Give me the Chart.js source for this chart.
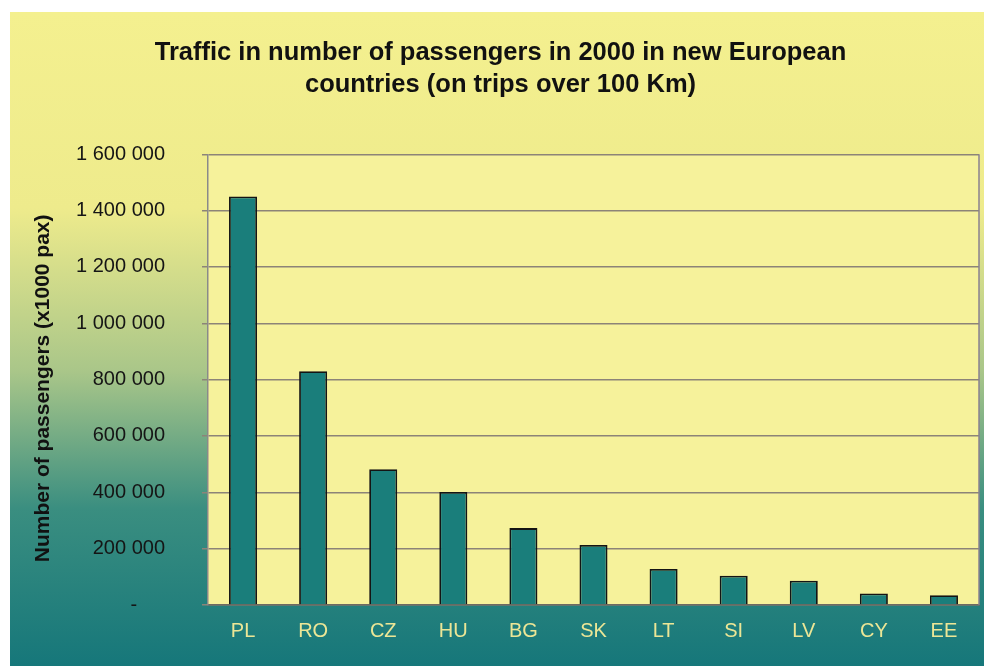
<!DOCTYPE html>
<html>
<head>
<meta charset="utf-8">
<script src="https://cdn.jsdelivr.net/npm/chart.js@4.4.0/dist/chart.umd.min.js"></script>
<style>
    body { margin: 0; background: #ffffff; }
    #wrap { position: absolute; left: 10px; top: 12px; }
</style>
</head>
<body>
<div id="wrap"><canvas id="chartArea" width="974" height="654"></canvas></div>
<script>
var countries = ['PL', 'RO', 'CZ', 'HU', 'BG', 'SK', 'LT', 'SI', 'LV', 'CY', 'EE'];
var passengers = [1450000, 830000, 482000, 401000, 273000, 213000, 128000, 104000, 86000, 41000, 35000];
var yTicks = [0, 200000, 400000, 600000, 800000, 1000000, 1200000, 1400000, 1600000];

var ctx, myNewChart;

// background gradient + yellow plot area + right border
var bgPlugin = {
    id: 'bgPlugin',
    beforeDraw: function (chart) {
        var c = chart.ctx, a = chart.chartArea;
        var g = c.createLinearGradient(0, 0, 0, chart.height);
        g.addColorStop(0, '#f4f08f');
        g.addColorStop(0.3, '#eeeb8c');
        g.addColorStop(0.55, '#a9c689');
        g.addColorStop(0.76, '#3a8e80');
        g.addColorStop(1, '#16777a');
        c.save();
        c.fillStyle = g;
        c.fillRect(0, 0, chart.width, chart.height);
        c.fillStyle = '#f6f29b';
        c.fillRect(a.left, a.top, a.right - a.left, a.bottom - a.top);
        c.restore();
    },
    afterDraw: function (chart) {
        var c = chart.ctx, a = chart.chartArea;
        c.save();
        c.strokeStyle = '#8a8090';
        c.lineWidth = 1.5;
        c.beginPath();
        c.moveTo(a.right, a.top);
        c.lineTo(a.right, a.bottom);
        c.stroke();
        c.restore();
    }
};

function fmt(v) {
    if (v === 0) return '-     ';
    return String(v).replace(/\B(?=(\d{3})+(?!\d))/g, ' ');
}

var config = {
    type: 'bar',
    data: {
        labels: countries,
        datasets: [{
            data: passengers,
            backgroundColor: '#1a7e7b',
            borderColor: '#141414',
            borderWidth: 1.8,
            barPercentage: 0.4,
            categoryPercentage: 1.0
        }]
    },
    options: {
        responsive: false,
        animation: false,
        layout: { padding: { left: 12, right: 5, top: 0, bottom: 0 } },
        plugins: {
            legend: { display: false },
            tooltip: { enabled: false },
            title: {
                display: true,
                text: ['Traffic in number of passengers in 2000 in new European', 'countries (on trips over 100 Km)'],
                color: '#111111',
                font: { family: 'Liberation Sans, Arial, sans-serif', size: 25.5, weight: 'bold', lineHeight: 1.26 },
                padding: { top: 25, bottom: 53 }
            }
        },
        scales: {
            x: {
                grid: { display: false, drawTicks: false },
                border: { display: true, color: '#6e6a62', width: 1.5 },
                ticks: {
                    color: '#ece696',
                    font: { family: 'Liberation Sans, Arial, sans-serif', size: 20 },
                    padding: 14
                },
                afterFit: function (scale) { scale.height = 61; }
            },
            y: {
                min: 0,
                max: 1600000,
                afterBuildTicks: function (scale) {
                    scale.ticks = yTicks.map(function (v) { return { value: v }; });
                },
                grid: { color: '#8c8478', lineWidth: 1.5, tickLength: 6 },
                border: { display: true, color: '#8a8a8a', width: 1.5 },
                ticks: {
                    color: '#151515',
                    font: { family: 'Liberation Sans, Arial, sans-serif', size: 20 },
                    padding: 37,
                    callback: function (v) { return fmt(v); }
                },
                title: {
                    display: true,
                    text: 'Number of passengers (x1000 pax)   ',
                    color: '#111111',
                    font: { family: 'Liberation Sans, Arial, sans-serif', size: 21, weight: 'bold' },
                    padding: { top: 9, bottom: 0 }
                },
                afterFit: function (scale) { scale.width = 186; }
            }
        }
    },
    plugins: [bgPlugin]
};

ctx = document.getElementById('chartArea').getContext('2d');
myNewChart = new Chart(ctx, config);
</script>
</body>
</html>
